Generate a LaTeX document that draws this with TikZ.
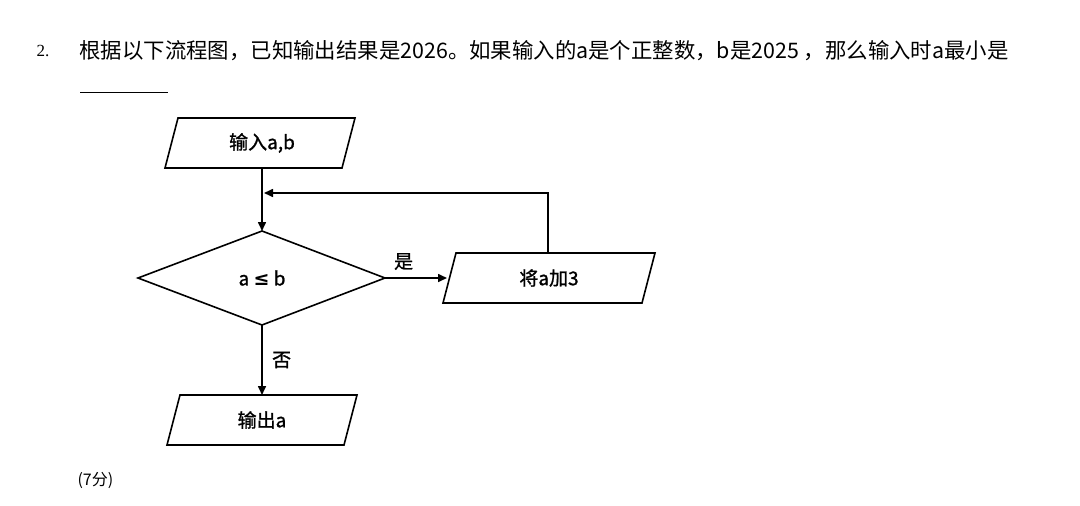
\documentclass[tikz,border=0pt]{standalone}
\usepackage{fontspec}
\setmainfont{Liberation Serif}
\newfontfamily\cjk{Noto Sans CJK SC}
\newfontfamily\cjkb{Noto Sans CJK SC}[FakeBold=1.2]
\newfontfamily\djv{DejaVu Sans}
\usetikzlibrary{arrows.meta}
\begin{document}
\begin{tikzpicture}[x=1pt,y=-1pt,
  box/.style={draw,line width=1.6pt},
  lab/.style={font=\cjkb\fontsize{19}{21}\selectfont},
  conn/.style={line width=1.6pt,-{Triangle[length=9pt,width=8pt]}}]
\useasboundingbox (0,0) rectangle (1080,506);
\node[anchor=west,font=\fontsize{17}{18}\selectfont] (num) at (33,51) {2.};
\node[anchor=west,font=\cjk\fontsize{21.4}{23}\selectfont] (q) at (76,51) {根据以下流程图，已知输出结果是2026。如果输入的a是个正整数，b是2025 ，那么输入时a最小是};
\draw[line width=0.8pt] (80,92) -- (168,92);
% input
\draw[box] (178,118) -- (355,118) -- (342,168) -- (165,168) -- cycle;
\node[lab,minimum width=170pt,minimum height=50pt] (in) at (262,143) {输入a,b};
% diamond
\draw[box] (262,231) -- (385,278) -- (262,325) -- (138,278) -- cycle;
\node[lab] (d) at (262,278) {a {\djv\bfseries ≤} b};
\coordinate (dt) at (262,231); \coordinate (dr) at (385,278); \coordinate (db) at (262,325);
% process
\draw[box] (456,253) -- (655,253) -- (642,303) -- (443,303) -- cycle;
\node[lab] (p) at (549,278) {将a加3};
\coordinate (pl) at (447,278); \coordinate (pt) at (548,253);
% output
\draw[box] (180,395) -- (357,395) -- (344,445) -- (167,445) -- cycle;
\node[lab] (out) at (262,420) {输出a};
\coordinate (ot) at (262,395);
\draw[conn] (in.south) -- (dt);
\draw[conn] (dr) -- (pl) node[pos=0.3,above=4pt,lab] (yes) {是};
\draw[conn] (pt) -- (548,193) -- (264,193);
\draw[conn] (db) -- (ot) node[midway,right=6pt,lab] (no) {否};
\node[anchor=west,font=\cjk\fontsize{16}{18}\selectfont] (score) at (74,480) {(7分)};
\end{tikzpicture}
\end{document}
